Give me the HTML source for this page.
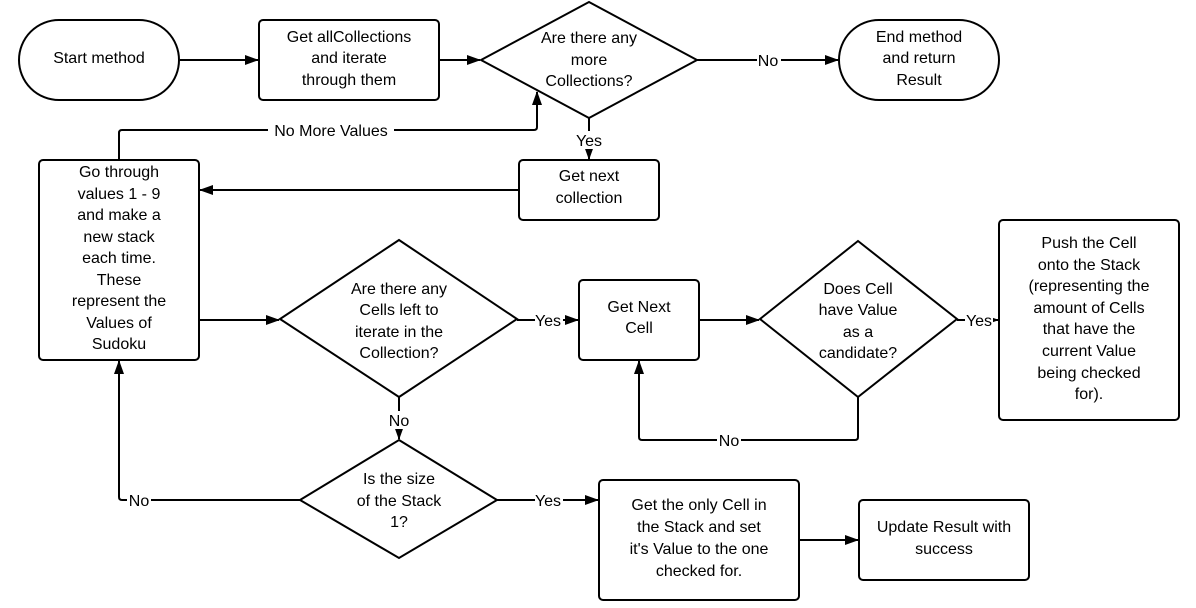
<!DOCTYPE html>
<html><head><meta charset="utf-8"><style>
html,body{margin:0;padding:0;background:#fff;}
svg{display:block;}
text{font-family:"Liberation Sans",sans-serif;font-size:16px;fill:#000;text-anchor:middle;}
.s{fill:#fff;stroke:#000;stroke-width:2;}
.l{fill:none;stroke:#000;stroke-width:2;}
</style></head><body>
<svg width="1196" height="608" viewBox="0 0 1196 608" xmlns="http://www.w3.org/2000/svg">
<defs><marker id="a" markerWidth="14" markerHeight="12" refX="13" refY="6" orient="auto" markerUnits="userSpaceOnUse"><path d="M0,1 L14,6 L0,11 z" fill="#000"/></marker></defs>
<path class="l" d="M180,60 H258" marker-end="url(#a)"/>
<path class="l" d="M440,60 H480" marker-end="url(#a)"/>
<path class="l" d="M697,60 H838" marker-end="url(#a)"/>
<path class="l" d="M589,118 V159" marker-end="url(#a)"/>
<path class="l" d="M519,190 H200" marker-end="url(#a)"/>
<path class="l" d="M119,160 V133 Q119,130 122,130 H534 Q537,130 537,127 V92" marker-end="url(#a)"/>
<path class="l" d="M200,320 H279" marker-end="url(#a)"/>
<path class="l" d="M517,320 H578" marker-end="url(#a)"/>
<path class="l" d="M700,320 H759" marker-end="url(#a)"/>
<path class="l" d="M957,320 H998" marker-end="url(#a)"/>
<path class="l" d="M858,397 V437 Q858,440 855,440 H642 Q639,440 639,437 V361" marker-end="url(#a)"/>
<path class="l" d="M399,397 V439" marker-end="url(#a)"/>
<path class="l" d="M300,500 H122 Q119,500 119,497 V361" marker-end="url(#a)"/>
<path class="l" d="M497,500 H598" marker-end="url(#a)"/>
<path class="l" d="M800,540 H858" marker-end="url(#a)"/>
<rect x="757" y="50" width="24" height="20" fill="#fff"/><text x="768" y="66">No</text>
<rect x="575" y="131" width="28" height="18" fill="#fff"/><text x="589" y="146">Yes</text>
<rect x="268" y="121" width="126" height="18" fill="#fff"/><text x="331" y="136">No More Values</text>
<rect x="535" y="311" width="28" height="18" fill="#fff"/><text x="548" y="326">Yes</text>
<rect x="965" y="311" width="28" height="18" fill="#fff"/><text x="979" y="326">Yes</text>
<rect x="717" y="431" width="24" height="18" fill="#fff"/><text x="729" y="446">No</text>
<rect x="388" y="411" width="22" height="18" fill="#fff"/><text x="399" y="426">No</text>
<rect x="127" y="491" width="24" height="18" fill="#fff"/><text x="139" y="506">No</text>
<rect x="535" y="491" width="28" height="18" fill="#fff"/><text x="548" y="506">Yes</text>
<rect class="s" x="19" y="20" width="160" height="80" rx="40"/>
<text x="99" y="63">Start method</text>
<rect class="s" x="259" y="20" width="180" height="80" rx="4"/>
<text x="349" y="42">Get allCollections</text><text x="349" y="63">and iterate</text><text x="349" y="85">through them</text>
<path class="s" d="M589,2 L697,60 L589,118 L481,60 z"/>
<text x="589" y="43">Are there any</text><text x="589" y="65">more</text><text x="589" y="86">Collections?</text>
<rect class="s" x="839" y="20" width="160" height="80" rx="40"/>
<text x="919" y="42">End method</text><text x="919" y="63">and return</text><text x="919" y="85">Result</text>
<rect class="s" x="519" y="160" width="140" height="60" rx="4"/>
<text x="589" y="181">Get next</text><text x="589" y="203">collection</text>
<rect class="s" x="39" y="160" width="160" height="200" rx="4"/>
<text x="119" y="177">Go through</text><text x="119" y="199">values 1 - 9</text><text x="119" y="220">and make a</text><text x="119" y="242">new stack</text><text x="119" y="263">each time.</text><text x="119" y="285">These</text><text x="119" y="306">represent the</text><text x="119" y="328">Values of</text><text x="119" y="349">Sudoku</text>
<path class="s" d="M399,240 L517,319 L399,397 L280,319 z"/>
<text x="399" y="294">Are there any</text><text x="399" y="315">Cells left to</text><text x="399" y="337">iterate in the</text><text x="399" y="358">Collection?</text>
<rect class="s" x="579" y="280" width="120" height="80" rx="4"/>
<text x="639" y="312">Get Next</text><text x="639" y="333">Cell</text>
<path class="s" d="M858,241 L957,319 L858,397 L760,319 z"/>
<text x="858" y="294">Does Cell</text><text x="858" y="315">have Value</text><text x="858" y="337">as a</text><text x="858" y="358">candidate?</text>
<rect class="s" x="999" y="220" width="180" height="200" rx="4"/>
<text x="1089" y="248">Push the Cell</text><text x="1089" y="270">onto the Stack</text><text x="1089" y="291">(representing the</text><text x="1089" y="313">amount of Cells</text><text x="1089" y="334">that have the</text><text x="1089" y="356">current Value</text><text x="1089" y="378">being checked</text><text x="1089" y="399">for).</text>
<path class="s" d="M399,440 L497,500 L399,558 L300,500 z"/>
<text x="399" y="484">Is the size</text><text x="399" y="506">of the Stack</text><text x="399" y="527">1?</text>
<rect class="s" x="599" y="480" width="200" height="120" rx="4"/>
<text x="699" y="510">Get the only Cell in</text><text x="699" y="532">the Stack and set</text><text x="699" y="554">it's Value to the one</text><text x="699" y="576">checked for.</text>
<rect class="s" x="859" y="500" width="170" height="80" rx="4"/>
<text x="944" y="532">Update Result with</text><text x="944" y="554">success</text>
</svg>
</body></html>
